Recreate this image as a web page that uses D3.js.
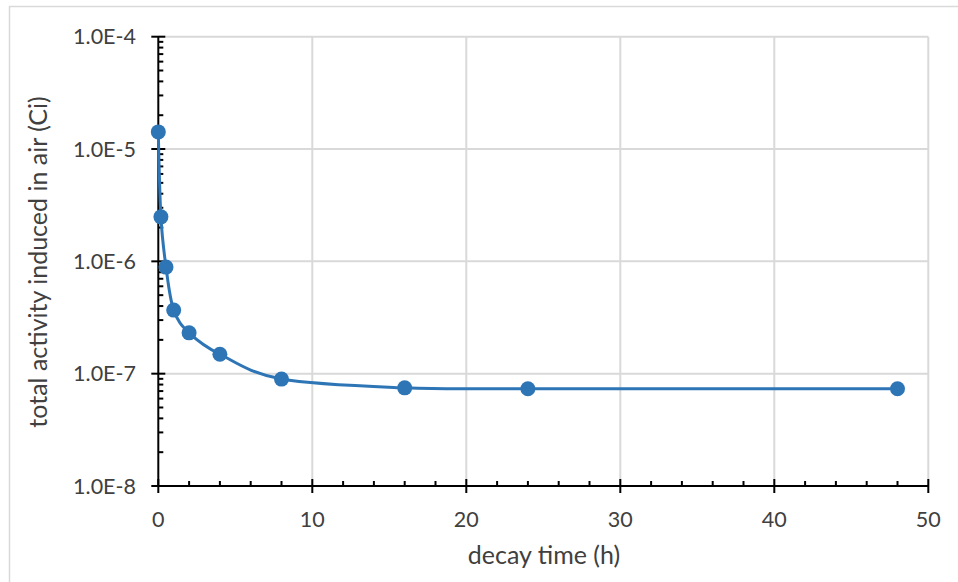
<!DOCTYPE html>
<html>
<head>
<meta charset="utf-8">
<script src="https://d3js.org/d3.v7.min.js"></script>
<style>
  body { margin: 0; background: #fff; }
  text { font-family: Lato, "Open Sans", sans-serif; fill: #404040; }
</style>
</head>
<body>
<svg width="958" height="582"></svg>
<script>
// data
const decayHours = [0, 0.17, 0.5, 1, 2, 4, 8, 16, 24, 48];
const activityCi = [1.42e-5, 2.49e-6, 8.89e-7, 3.68e-7, 2.31e-7, 1.49e-7, 8.95e-8, 7.48e-8, 7.34e-8, 7.34e-8];
const xTicks = [0, 10, 20, 30, 40, 50];
const xMinorTicks = [2,4,6,8,12,14,16,18,22,24,26,28,32,34,36,38,42,44,46,48];
const yTicks = [1e-8, 1e-7, 1e-6, 1e-5, 1e-4];
const xTitle = "decay time (h)";
const yTitle = "total activity induced in air (Ci)";

const svg = d3.select("svg");
const blue = "#2e75b6", grid = "#d9d9d9";

const x = d3.scaleLinear().domain([0, 50]).range([158.3, 928.3]);
const y = d3.scaleLog().domain([1e-8, 1e-4]).range([486, 36.7]);

// chart frame
svg.append("rect")
  .attr("x", 9.5).attr("y", 6.5).attr("width", 1000).attr("height", 1000)
  .attr("fill", "none").attr("stroke", grid).attr("stroke-width", 1.5);

// gridlines
svg.append("g").selectAll("line")
  .data(xTicks.slice(1)).enter().append("line")
  .attr("x1", d => x(d)).attr("x2", d => x(d))
  .attr("y1", y(1e-4)).attr("y2", y(1e-8))
  .attr("stroke", grid).attr("stroke-width", 2);
svg.append("g").selectAll("line")
  .data(yTicks.slice(1)).enter().append("line")
  .attr("x1", x(0)).attr("x2", x(50))
  .attr("y1", d => y(d)).attr("y2", d => y(d))
  .attr("stroke", grid).attr("stroke-width", 2);

// minor y ticks: 2..9 in each decade
var yMinor = [];
yTicks.slice(0, -1).forEach(function(d) {
  for (var k = 2; k <= 9; k++) yMinor.push(d * k);
});

const axes = svg.append("g").attr("stroke", "#000").attr("stroke-width", 2);
axes.append("line").attr("x1", x(0)).attr("x2", x(0)).attr("y1", y(1e-4)).attr("y2", y(1e-8));
axes.append("line").attr("x1", x(0)).attr("x2", x(50)).attr("y1", y(1e-8)).attr("y2", y(1e-8));
axes.selectAll(".ymaj").data(yTicks).enter().append("line")
  .attr("x1", x(0) - 7).attr("x2", x(0) + 7)
  .attr("y1", d => y(d)).attr("y2", d => y(d));
axes.selectAll(".ymin").data(yMinor).enter().append("line")
  .attr("x1", x(0)).attr("x2", x(0) + 5)
  .attr("y1", d => y(d)).attr("y2", d => y(d));
axes.selectAll(".xmaj").data(xTicks).enter().append("line")
  .attr("x1", d => x(d)).attr("x2", d => x(d))
  .attr("y1", y(1e-8) - 7).attr("y2", y(1e-8) + 7);
axes.selectAll(".xmin").data(xMinorTicks).enter().append("line")
  .attr("x1", d => x(d)).attr("x2", d => x(d))
  .attr("y1", y(1e-8) - 5).attr("y2", y(1e-8));

// tick labels
svg.append("g").selectAll("text").data(yTicks).enter().append("text")
  .attr("x", 136).attr("y", d => y(d)).attr("dy", "0.36em")
  .attr("text-anchor", "end").style("font-size", "21.5px")
  .text(d => "1.0E" + Math.round(Math.log10(d)));
svg.append("g").selectAll("text").data(xTicks).enter().append("text")
  .attr("x", d => x(d)).attr("y", 527)
  .attr("text-anchor", "middle").style("font-size", "21.5px")
  .text(d => d);

// axis titles
svg.append("text").attr("x", 544).attr("y", 564)
  .attr("text-anchor", "middle").style("font-size", "25px").text(xTitle);
svg.append("text").attr("transform", "translate(47,262) rotate(-90)")
  .attr("text-anchor", "middle").style("font-size", "25px").text(yTitle);

// series
const line = d3.line()
  .x((d, i) => x(decayHours[i]))
  .y(d => y(d))
  .curve(d3.curveCardinal.tension(0));
svg.append("path").datum(activityCi)
  .attr("d", line).attr("fill", "none")
  .attr("stroke", blue).attr("stroke-width", 3);
svg.append("g").selectAll("circle").data(activityCi).enter().append("circle")
  .attr("cx", (d, i) => x(decayHours[i])).attr("cy", d => y(d))
  .attr("r", 7.5).attr("fill", blue);
</script>
</body>
</html>
